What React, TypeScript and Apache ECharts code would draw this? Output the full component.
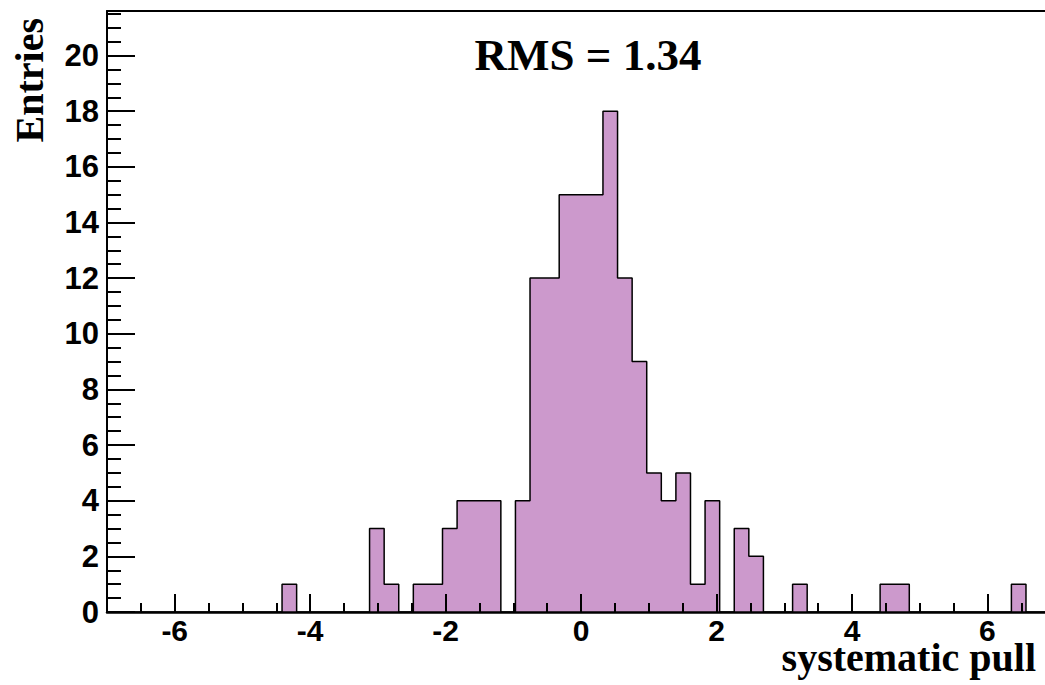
import React, { useEffect, useRef } from "react";
import * as echarts from "echarts";

const BIN_MIN = -7;
const BIN_MAX = 7;
const COUNTS = [
  0, 0, 0, 0, 0, 0, 0, 0, 0, 0, 0, 0, 1, 0, 0, 0, 0, 0, 3, 1, 0, 1, 1, 3, 4, 4, 4, 0, 4, 12, 12, 15, 15,
  15, 18, 12, 9, 5, 4, 5, 1, 4, 0, 3, 2, 0, 0, 1, 0, 0, 0, 0, 0, 1, 1, 0, 0, 0, 0, 0, 0, 0, 1, 0, 0,
];
const X_MIN = -7;
const X_MAX = 6.85;
const Y_MIN = 0;
const Y_MAX = 21.6;
const X_MAJOR_TICKS = [-6, -4, -2, 0, 2, 4, 6];
const X_MINOR_TICKS = [-6.5, -5.5, -5, -4.5, -3.5, -3, -2.5, -1.5, -1, -0.5, 0.5, 1, 1.5, 2.5, 3, 3.5, 4.5, 5, 5.5, 6.5];
const Y_MAJOR_TICKS = [0, 2, 4, 6, 8, 10, 12, 14, 16, 18, 20];
const Y_MINOR_TICKS = [
  0.5, 1, 1.5, 2.5, 3, 3.5, 4.5, 5, 5.5, 6.5, 7, 7.5, 8.5, 9, 9.5, 10.5, 11, 11.5, 12.5, 13, 13.5, 14.5, 15,
  15.5, 16.5, 17, 17.5, 18.5, 19, 19.5, 20.5, 21, 21.5,
];
const TITLE = "RMS = 1.34";
const X_TITLE = "systematic pull";
const Y_TITLE = "Entries";

const SANS = "'Liberation Sans', Arial, sans-serif";
const SERIF = "'Liberation Serif', 'Times New Roman', serif";

export default function App() {
  const ref = useRef<HTMLDivElement>(null);
  useEffect(() => {
    if (!ref.current) return;
    const chart = echarts.init(ref.current, undefined, { renderer: "svg" });
    const nBins = COUNTS.length;
    const w = (BIN_MAX - BIN_MIN) / nBins;
    const data: number[][] = COUNTS.map((c, k) => [BIN_MIN + k * w, c]);
    data.push([BIN_MAX, COUNTS[nBins - 1]]);

    const baseX = {
      type: "value",
      min: X_MIN,
      max: X_MAX,
      splitLine: { show: false },
      z: 5,
    };
    const baseY = {
      type: "value",
      min: Y_MIN,
      max: Y_MAX,
      splitLine: { show: false },
      z: 5,
    };

    chart.setOption({
      animation: false,
      backgroundColor: "#fff",
      grid: { left: 107, right: 0, top: 11, bottom: 73, containLabel: false },
      xAxis: [
        {
          ...baseX,
          position: "bottom",
          axisLine: { show: true, onZero: false, lineStyle: { color: "#000", width: 2.5 } },
          axisTick: {
            show: true,
            inside: true,
            length: 18,
            customValues: X_MAJOR_TICKS,
            lineStyle: { color: "#000", width: 2 },
          },
          axisLabel: {
            show: true,
            customValues: X_MAJOR_TICKS,
            margin: 7,
            fontFamily: SANS,
            fontWeight: "bold",
            fontSize: 30,
            lineHeight: 22,
            color: "#000",
            formatter: (v: number) => String(v),
          },
        },
        {
          ...baseX,
          position: "bottom",
          axisLine: { show: false, onZero: false },
          axisTick: {
            show: true,
            inside: true,
            length: 9,
            customValues: X_MINOR_TICKS,
            lineStyle: { color: "#000", width: 2 },
          },
          axisLabel: { show: false },
        },
        {
          ...baseX,
          position: "top",
          axisLine: { show: true, onZero: false, lineStyle: { color: "#000", width: 2 } },
          axisTick: { show: false },
          axisLabel: { show: false },
        },
      ],
      yAxis: [
        {
          ...baseY,
          position: "left",
          axisLine: { show: true, onZero: false, lineStyle: { color: "#000", width: 2 } },
          axisTick: {
            show: true,
            inside: true,
            length: 28,
            customValues: Y_MAJOR_TICKS,
            lineStyle: { color: "#000", width: 2 },
          },
          axisLabel: {
            show: true,
            customValues: Y_MAJOR_TICKS,
            margin: 8,
            fontFamily: SANS,
            fontWeight: "bold",
            fontSize: 31,
            lineHeight: 24,
            color: "#000",
            formatter: (v: number) => String(v),
          },
        },
        {
          ...baseY,
          position: "left",
          axisLine: { show: false, onZero: false },
          axisTick: {
            show: true,
            inside: true,
            length: 14,
            customValues: Y_MINOR_TICKS,
            lineStyle: { color: "#000", width: 2 },
          },
          axisLabel: { show: false },
        },
      ],
      series: [
        {
          type: "line",
          xAxisIndex: 0,
          yAxisIndex: 0,
          step: "end",
          data,
          showSymbol: false,
          symbol: "none",
          clip: true,
          lineStyle: { color: "#000", width: 1.5 },
          areaStyle: { color: "#cc99cc", opacity: 1, origin: "start" },
          z: 2,
        },
      ],
      graphic: [
        {
          type: "text",
          x: 588,
          y: 55,
          style: {
            text: TITLE,
            fontFamily: SERIF,
            fontWeight: "bold",
            fontSize: 45,
            lineHeight: 34,
            fill: "#000",
            align: "center",
            verticalAlign: "middle",
          },
        },
        {
          type: "text",
          x: 1036,
          y: 657,
          style: {
            text: X_TITLE,
            fontFamily: SERIF,
            fontWeight: "bold",
            fontSize: 40,
            lineHeight: 24,
            fill: "#000",
            align: "right",
            verticalAlign: "middle",
          },
        },
        {
          type: "text",
          x: 29,
          y: 18,
          rotation: Math.PI / 2,
          style: {
            text: Y_TITLE,
            fontFamily: SERIF,
            fontWeight: "bold",
            fontSize: 40,
            lineHeight: 30,
            fill: "#000",
            align: "right",
            verticalAlign: "middle",
          },
        },
      ],
    });
    return () => chart.dispose();
  }, []);
  return (
    <div
      ref={ref}
      style={{ position: "fixed", left: 0, top: 0, width: 1045, height: 685, background: "#fff" }}
    />
  );
}
